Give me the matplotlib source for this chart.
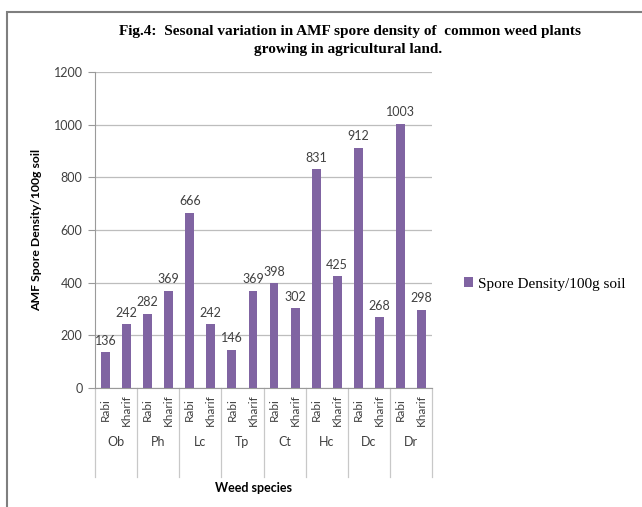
import matplotlib.pyplot as plt
from matplotlib.patches import Rectangle
from matplotlib.transforms import blended_transform_factory

# data
species = ["Ob", "Ph", "Lc", "Tp", "Ct", "Hc", "Dc", "Dr"]
seasons = ["Rabi", "Kharif"]
rabi = [136, 282, 666, 146, 398, 831, 912, 1003]
kharif = [242, 369, 242, 369, 302, 425, 268, 298]

values = []
for r, k in zip(rabi, kharif):
    values += [r, k]
xpos = list(range(len(values)))

bar_color = "#8064A2"
grid_color = "#BDBDBD"
text_color = "#404040"
sans = ["Lato", "DejaVu Sans"]
serif = ["Liberation Serif", "DejaVu Serif"]

fig = plt.figure(figsize=(6.42, 5.07), dpi=100)
W, H = 642, 507

# outer frame of the figure panel
fig.patches.append(Rectangle((7 / W, -0.1), 1.2, 1 - 12 / H + 0.1,
                             transform=fig.transFigure, fill=False,
                             edgecolor="#7F7F7F", linewidth=1.5))

ax = fig.add_axes([95 / W, (H - 388) / H, (432 - 95) / W, (388 - 72) / H])
bars = ax.bar(xpos, values, width=0.42, color=bar_color,
              label="Spore Density/100g soil", zorder=3)

ax.set_xlim(-0.5, len(values) - 0.5)
ax.set_ylim(0, 1200)
ax.set_yticks(range(0, 1201, 200))
ax.yaxis.grid(True, color=grid_color, linewidth=0.9, zorder=0)
for side in ["top", "right"]:
    ax.spines[side].set_visible(False)
ax.spines["left"].set_color("#9A9A9A")
ax.spines["bottom"].set_color("#9A9A9A")
ax.tick_params(axis="y", colors="#9A9A9A", length=5, labelcolor=text_color,
               labelsize=9, pad=4)
for lab in ax.get_yticklabels():
    lab.set_family(sans)
ax.set_xticks([])

# value labels
for x, v in zip(xpos, values):
    ax.annotate(str(v), (x, v), xytext=(0, 4), textcoords="offset points",
                ha="center", va="bottom", fontsize=9, color=text_color,
                family=sans)

# two-level category axis
tr = blended_transform_factory(ax.transData, ax.transAxes)
axh = 388 - 72
for i, x in enumerate(xpos):
    ax.text(x, -22 / axh, seasons[i % 2], transform=tr, rotation=90,
            ha="center", va="center", fontsize=8.5, color=text_color,
            family=sans)
for g, name in enumerate(species):
    ax.text(2 * g + 0.5, -54 / axh, name, transform=tr, ha="center",
            va="center", fontsize=9, color=text_color, family=sans)
for b in range(len(species) + 1):
    ax.plot([2 * b - 0.5, 2 * b - 0.5], [0, -89 / axh], transform=tr,
            color="#C8C8C8", linewidth=0.9, clip_on=False)

ax.text(0.47, -100 / axh, "Weed species", transform=ax.transAxes,
        ha="center", va="center", fontsize=9, fontweight="bold",
        color="black", family=sans)
ax.set_ylabel("AMF Spore Density/100g soil", fontsize=8.8, fontweight="bold",
              family=sans, labelpad=8)

fig.text(350 / W, 1 - 31 / H,
         "Fig.4:  Sesonal variation in AMF spore density of  common weed plants",
         ha="center", va="center", fontsize=11, fontweight="bold",
         family=serif)
fig.text(348 / W, 1 - 49 / H, "growing in agricultural land.",
         ha="center", va="center", fontsize=11, fontweight="bold",
         family=serif)

leg = fig.legend(handles=[bars], loc="center left",
                 bbox_to_anchor=(450 / W, 1 - 284 / H), frameon=False,
                 handlelength=0.6, handleheight=0.6, handletextpad=0.3,
                 prop={"family": serif, "size": 11})

fig.savefig("out.png", dpi=100)
